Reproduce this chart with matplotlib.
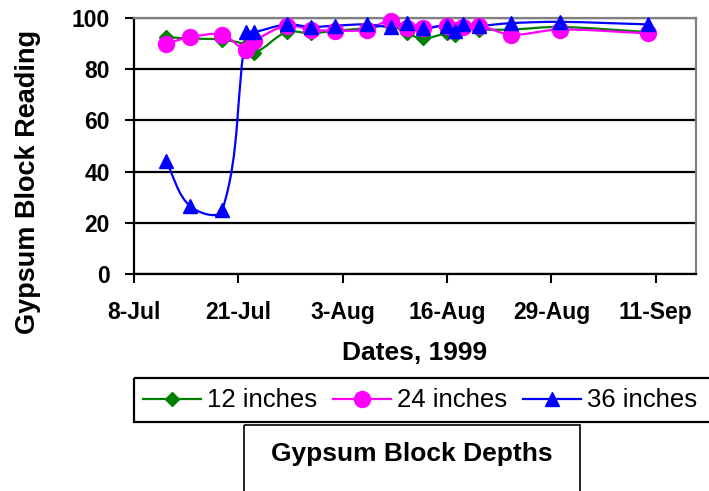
import matplotlib
matplotlib.use("Agg")
import matplotlib.pyplot as plt
import matplotlib.dates as mdates
import numpy as np
from matplotlib.path import Path
from matplotlib.patches import PathPatch, Rectangle
from matplotlib.lines import Line2D

plt.rcParams['font.family'] = ['Liberation Sans', 'DejaVu Sans']

# Reading dates (1999) and gypsum block readings per depth
dates = ["1999-07-12", "1999-07-15", "1999-07-19", "1999-07-22", "1999-07-23",
         "1999-07-27", "1999-07-30", "1999-08-02", "1999-08-06", "1999-08-09",
         "1999-08-11", "1999-08-13", "1999-08-16", "1999-08-17", "1999-08-18",
         "1999-08-20", "1999-08-24", "1999-08-30", "1999-09-10"]
depth_12 = [92.5, 92, 91.5, 89.5, 86.5, 94.5, 94, 95, 96, 97, 94, 92, 94, 93.5,
            96, 95.5, 95.5, 96.5, 94.5]
depth_24 = [90, 92.5, 93.5, 87.5, 91, 97, 95.5, 95, 95.5, 99, 96, 96, 97, 95.5,
            96.5, 97, 93.5, 95.5, 94]
depth_36 = [44, 26.5, 25, 94.5, 94.5, 97.5, 96.5, 97, 97.5, 96.5, 98, 96, 97,
            95, 97.5, 97, 98, 98.5, 97.5]
series_labels = ["12 inches", "24 inches", "36 inches"]
tick_dates = ["1999-07-08", "1999-07-21", "1999-08-03", "1999-08-16",
              "1999-08-29", "1999-09-11"]

styles = [dict(color="#008000", marker="D", ms=7.5),
          dict(color="#FF00FF", marker="o", ms=11.5),
          dict(color="#0000FF", marker="^", ms=10)]


def smooth_path(ax, x, y, k=1 / 3):
    """Excel-like smoothed line: cubic bezier through the points,
    tangents worked out in screen space."""
    to_px = ax.transData
    pts = to_px.transform(np.column_stack([x, y]))
    n = len(pts)
    verts = [pts[0]]
    codes = [Path.MOVETO]

    def tangent(i):
        d = pts[min(i + 1, n - 1)] - pts[max(i - 1, 0)]
        return d / np.hypot(*d)

    for i in range(n - 1):
        p1, p2 = pts[i], pts[i + 1]
        seg = np.hypot(*(p2 - p1))
        verts += [p1 + tangent(i) * seg * k, p2 - tangent(i + 1) * seg * k, p2]
        codes += [Path.CURVE4] * 3
    verts = to_px.inverted().transform(np.array(verts))
    return Path(verts, codes)


W, H = 709, 491
fig = plt.figure(figsize=(W / 100, H / 100), dpi=100)
ax = fig.add_axes([134 / W, 1 - 274 / H, (696 - 134) / W, (274 - 18) / H])

ax.set_ylim(0, 100)
ax.set_yticks(range(0, 101, 20))
ax.set_xlim(mdates.datestr2num("1999-07-08"), mdates.datestr2num("1999-09-16"))
ax.set_xticks(mdates.datestr2num(tick_dates))
ax.xaxis.set_major_formatter(mdates.DateFormatter("%-d-%b"))

x = mdates.datestr2num(dates)
for vals, st in zip([depth_12, depth_24, depth_36], styles):
    ax.add_patch(PathPatch(smooth_path(ax, x, np.array(vals, float)),
                           fill=False, edgecolor=st["color"], lw=1.6, zorder=3))
    ax.plot(x, vals, linestyle="none", marker=st["marker"], ms=st["ms"],
            color=st["color"], mec=st["color"], zorder=4, clip_on=False)

ax.grid(axis="y", color="black", lw=1.6)
ax.set_axisbelow(True)
for lab in ax.get_xticklabels() + ax.get_yticklabels():
    lab.set_fontweight("bold")
ax.tick_params(axis="both", direction="out", length=6.5, width=1.5,
               labelsize=16.5, color="black")
ax.tick_params(axis="x", pad=13)
ax.tick_params(axis="y", pad=11)
for side in ["left", "bottom"]:
    ax.spines[side].set_color("black")
    ax.spines[side].set_linewidth(1.6)
for side in ["top", "right"]:
    ax.spines[side].set_color("#808080")
    ax.spines[side].set_linewidth(1.6)

# overlay in pixel coordinates for labels and the legend boxes
ov = fig.add_axes([0, 0, 1, 1], zorder=5)
ov.set_xlim(0, W)
ov.set_ylim(H, 0)
ov.axis("off")
ov.patch.set_alpha(0)

ov.text(28, 182, "Gypsum Block Reading", rotation=90, ha="center",
        va="center", fontsize=19.5, fontweight="bold")
ov.text(415, 353, "Dates, 1999", ha="center", va="center", fontsize=19,
        fontweight="bold")

ov.add_patch(Rectangle((134, 378), 600, 44, fill=False, edgecolor="black",
                       lw=1.6, clip_on=False))
ov.add_patch(Rectangle((244, 425), 336, 80, fill=False, edgecolor="black",
                       lw=1.2, clip_on=False))
ov.text(412, 454, "Gypsum Block Depths", ha="center", va="center",
        fontsize=19, fontweight="bold")

leg_x = [143, 333, 523]
for lx, lab, st in zip(leg_x, series_labels, styles):
    ov.add_line(Line2D([lx, lx + 58], [399, 399], color=st["color"], lw=1.6))
    ov.plot([lx + 29], [399], marker=st["marker"], ms=st["ms"],
            color=st["color"], mec=st["color"])
    ov.text(lx + 64, 400, lab, ha="left", va="center", fontsize=18.5)

fig.savefig("out.png", dpi=100)
